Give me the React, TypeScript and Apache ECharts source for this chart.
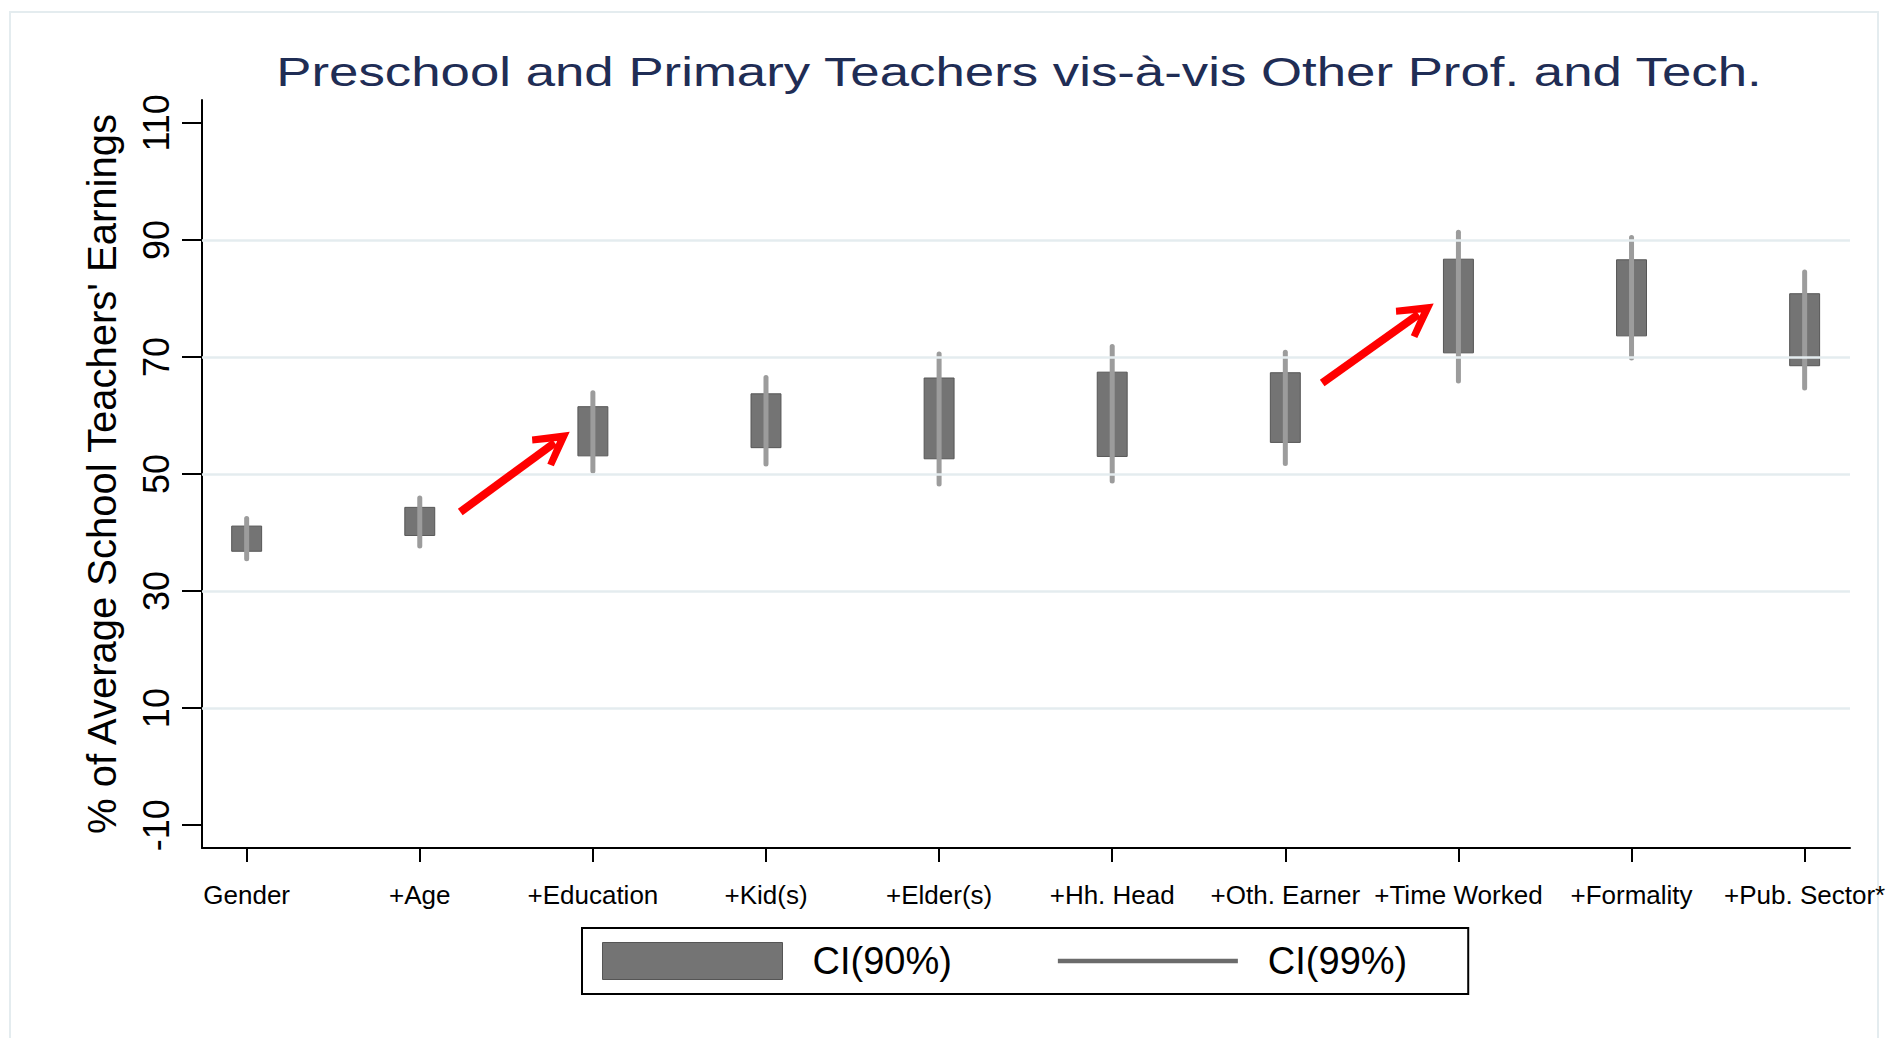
import React, { useEffect, useRef } from 'react';
import * as echarts from 'echarts';

const categories = ['Gender', '+Age', '+Education', '+Kid(s)', '+Elder(s)', '+Hh. Head', '+Oth. Earner', '+Time Worked', '+Formality', '+Pub. Sector*'];
const ci90Low = [36.8, 39.5, 53.1, 54.5, 52.6, 53.0, 55.4, 70.7, 73.6, 68.5];
const ci90High = [41.1, 44.3, 61.5, 63.7, 66.4, 67.4, 67.3, 86.7, 86.6, 80.8];
const ci99Low = [35.5, 37.7, 50.5, 51.7, 48.3, 48.8, 51.8, 65.9, 69.8, 64.7];
const ci99High = [42.4, 45.9, 63.9, 66.5, 70.5, 71.8, 70.8, 91.3, 90.4, 84.5];
const yTicks = [-10, 10, 30, 50, 70, 90, 110];
const gridValues = [10, 30, 50, 70, 90];
const xTicks = [0, 1, 2, 3, 4, 5, 6, 7, 8, 9];
// annotation arrows: [tail, head-centre] in data coordinates
const arrowStarts = [[1.234, 43.5], [6.213, 65.56]];
const arrowEnds = [[1.78, 55.35], [6.77, 77.28]];
const titleText = 'Preschool and Primary Teachers vis-à-vis Other Prof. and Tech.';
const yTitle = "% of Average School Teachers' Earnings";
const legendNames = ['CI(90%)', 'CI(99%)'];

const FONT = '"Liberation Sans", Arial, sans-serif';
const ARROW_HEAD = 'path://M50,0 L100,90 L84,100 L50,42 L16,100 L0,90 Z';
const LINE_ICON = 'path://M0,0 L487,0 L487,0 Z M0,44 L487,44 L487,56 L0,56 Z M0,100 L487,100 L487,100 Z';

export default function App() {
  const ref = useRef<HTMLDivElement>(null);

  useEffect(() => {
    if (!ref.current) return;
    const chart = echarts.init(ref.current, undefined, { renderer: 'svg' });

    const boxData = categories.map((_, i) => [i, ci90Low[i], ci90High[i]]);
    const lineData = categories.map((_, i) => [i, ci99Low[i], ci99High[i]]);

    const option: any = {
      animation: false,
      backgroundColor: '#ffffff',
      textStyle: { fontFamily: FONT },
      graphic: [
        {
          type: 'rect',
          z: -10,
          shape: { x: 10, y: 12, width: 1868, height: 1040 },
          style: { fill: 'none', stroke: '#e4ecef', lineWidth: 2 },
          silent: true,
        },
        {
          type: 'text',
          x: 1019,
          y: 72.5,
          scaleX: 1.32,
          style: {
            text: titleText,
            fontSize: 40,
            fontFamily: FONT,
            fill: '#1f2d55',
            align: 'center',
            verticalAlign: 'middle',
          },
        },
      ],
      grid: { left: 202, top: 100, width: 1648, height: 748, containLabel: false },
      legend: {
        left: 582,
        top: 928,
        orient: 'horizontal',
        itemWidth: 180,
        itemHeight: 37,
        itemGap: 106,
        padding: [14, 61, 14, 20],
        borderColor: '#000000',
        borderWidth: 2,
        selectedMode: false,
        symbolKeepAspect: false,
        textStyle: { fontSize: 38, fontFamily: FONT, color: '#000000', padding: [0, 0, 0, 25], lineHeight: 37 },
        data: [
          { name: legendNames[0], icon: 'rect', itemStyle: { color: '#747474', borderColor: '#555555', borderWidth: 1 } },
          { name: legendNames[1], icon: LINE_ICON, itemStyle: { color: '#6b6b6b', borderWidth: 0 } },
        ],
      },
      xAxis: {
        type: 'value',
        min: -0.258,
        max: 9.262,
        axisLine: { show: true, onZero: false, lineStyle: { color: '#000000', width: 2 } },
        axisTick: { show: true, customValues: xTicks, length: 14, lineStyle: { color: '#000000', width: 2 } },
        axisLabel: {
          customValues: xTicks,
          formatter: (v: number) => categories[Math.round(v)] ?? '',
          fontSize: 26,
          fontFamily: FONT,
          color: '#000000',
          margin: 34,
        },
        splitLine: { show: false },
      },
      yAxis: {
        type: 'value',
        min: -13.9,
        max: 113.9,
        name: yTitle,
        nameLocation: 'middle',
        nameRotate: 90,
        nameGap: 80,
        nameTextStyle: { fontSize: 40, fontFamily: FONT, color: '#000000' },
        axisLine: { show: true, onZero: false, lineStyle: { color: '#000000', width: 2 } },
        axisTick: { show: true, customValues: yTicks, length: 20, lineStyle: { color: '#000000', width: 2 } },
        axisLabel: {
          customValues: yTicks,
          rotate: 90,
          fontSize: 36,
          fontFamily: FONT,
          color: '#000000',
          margin: 28,
        },
        splitLine: { show: false },
      },
      series: [
        {
          type: 'line',
          name: 'gridlines',
          data: [],
          silent: true,
          z: 1,
          markLine: {
            silent: true,
            symbol: 'none',
            label: { show: false },
            emphasis: { disabled: true },
            lineStyle: { color: '#e4ecef', width: 2.5, type: 'solid' },
            data: gridValues.map((v) => ({ yAxis: v })),
          },
        },
        {
          type: 'custom',
          name: legendNames[0],
          z: 3,
          itemStyle: { color: '#747474' },
          data: boxData,
          encode: { x: 0, y: [1, 2] },
          renderItem: (params: any, api: any) => {
            const i = api.value(0);
            const top = api.coord([i, api.value(2)]);
            const bot = api.coord([i, api.value(1)]);
            const w = api.size([1, 0])[0] * 0.173;
            return {
              type: 'rect',
              shape: { x: top[0] - w / 2, y: top[1], width: w, height: bot[1] - top[1] },
              style: { fill: '#747474', stroke: '#565656', lineWidth: 1 },
            };
          },
        },
        {
          type: 'custom',
          name: legendNames[1],
          z: 4,
          itemStyle: { color: '#9c9c9c' },
          data: lineData,
          encode: { x: 0, y: [1, 2] },
          renderItem: (params: any, api: any) => {
            const i = api.value(0);
            const top = api.coord([i, api.value(2)]);
            const bot = api.coord([i, api.value(1)]);
            return {
              type: 'line',
              shape: { x1: top[0], y1: top[1], x2: bot[0], y2: bot[1] },
              style: { stroke: '#9c9c9c', lineWidth: 5, lineCap: 'round' },
            };
          },
        },
        {
          type: 'line',
          name: 'arrows',
          data: [],
          silent: true,
          z: 10,
          markLine: {
            silent: true,
            symbol: ['none', ARROW_HEAD],
            symbolSize: 37,
            label: { show: false },
            emphasis: { disabled: true },
            lineStyle: { color: '#ff0000', width: 8, type: 'solid', cap: 'butt', opacity: 1 },
            data: arrowStarts.map((s, k) => [{ coord: s }, { coord: arrowEnds[k] }]),
          },
        },
      ],
    };

    chart.setOption(option);
    return () => chart.dispose();
  }, []);

  return (
    <div
      ref={ref}
      style={{ position: 'absolute', left: 0, top: 0, width: 1890, height: 1038, background: '#ffffff' }}
    />
  );
}
